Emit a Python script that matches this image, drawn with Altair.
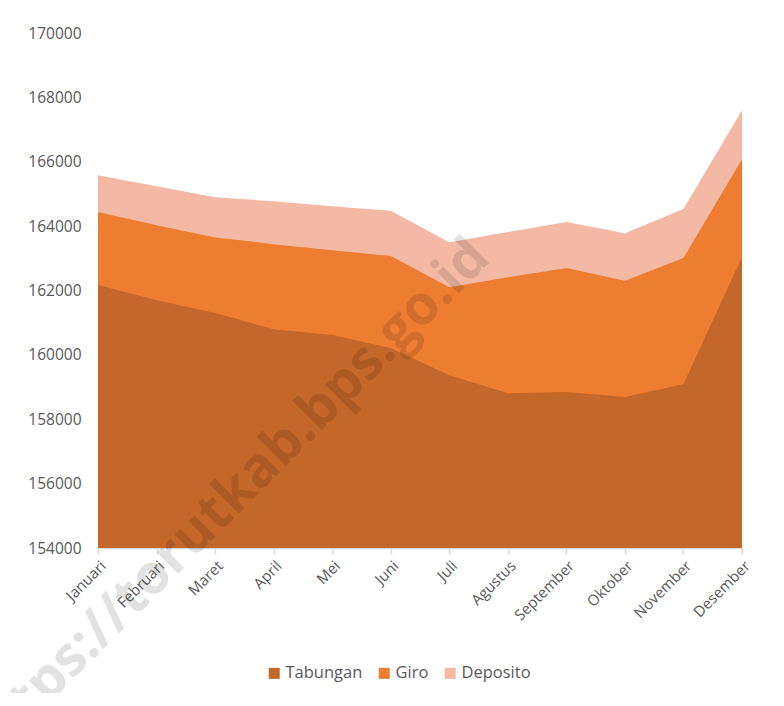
import altair as alt
import pandas as pd

months = ["Januari", "Februari", "Maret", "April", "Mei", "Juni", "Juli",
          "Agustus", "September", "Oktober", "November", "Desember"]
tabungan = [162170, 161700, 161300, 160800, 160620, 160210, 159370,
            158810, 158850, 158690, 159090, 163040]
giro = [164440, 164030, 163650, 163440, 163250, 163070, 162100,
        162410, 162700, 162300, 163010, 166080]
deposito = [165580, 165240, 164900, 164770, 164620, 164480, 163500,
            163820, 164130, 163780, 164530, 167600]
series = ["Tabungan", "Giro", "Deposito"]
colors = ["#C4672A", "#ED7D31", "#F4B9A5"]
y_ticks = [154000, 156000, 158000, 160000, 162000, 164000, 166000, 168000, 170000]
watermark = "https://torutkab.bps.go.id"

rows = []
for name, vals in zip(series, [tabungan, giro, deposito]):
    for m, v in zip(months, vals):
        rows.append({"Bulan": m, "Seri": name, "Nilai": v})
df = pd.DataFrame(rows)

FONT = "Open Sans"

x_enc = alt.X("Bulan:N", sort=months, title=None,
              scale=alt.Scale(type="point", padding=0),
              axis=alt.Axis(labelAngle=315, labelAlign="right", labelBaseline="top",
                            labelFontSize=15, labelColor="#595959", labelFont=FONT,
                            labelPadding=4, tickSize=6, tickColor="#D9D9D9",
                            domainColor="#D9D9D9", domainWidth=1.5, tickWidth=1.5,
                            grid=False, labelOverlap=False))
y_enc = alt.Y("Nilai:Q", title=None, stack=None,
              scale=alt.Scale(domain=[154000, 170000], nice=False, zero=False),
              axis=alt.Axis(values=y_ticks, format="d", ticks=False, domain=False,
                            grid=False, labelFontSize=15.5, labelColor="#595959",
                            labelFont=FONT, labelPadding=17))
color_enc = alt.Color("Seri:N", title=None,
                      scale=alt.Scale(domain=series, range=colors),
                      legend=alt.Legend(orient="none", direction="horizontal",
                                        legendX=168, legendY=632,
                                        symbolType="square", symbolSize=121,
                                        symbolStrokeWidth=0, labelFontSize=16.5,
                                        labelFont=FONT, labelColor="#595959",
                                        labelOffset=3, columnPadding=13))

layers = []
for name in ["Deposito", "Giro", "Tabungan"]:
    layers.append(
        alt.Chart(df).transform_filter(alt.datum.Seri == name)
        .mark_area(opacity=1, clip=True)
        .encode(x=x_enc, y=y_enc, color=color_enc)
    )

wm = alt.Chart(pd.DataFrame({"t": [watermark]})).mark_text(
    angle=315, align="right", baseline="middle", fontSize=55, fontWeight="bold",
    font=FONT, color="black", opacity=0.11
).encode(text="t:N", x=alt.value(382), y=alt.value(215))

chart = alt.layer(*layers, wm).properties(
    width=644, height=515,
    autosize=alt.AutoSizeParams(type="none"),
    padding={"left": 90, "top": 25, "right": 30, "bottom": 145},
    background="white",
).configure_view(stroke=None)

chart.save("out.html", embed_options={"renderer": "svg", "actions": False})
